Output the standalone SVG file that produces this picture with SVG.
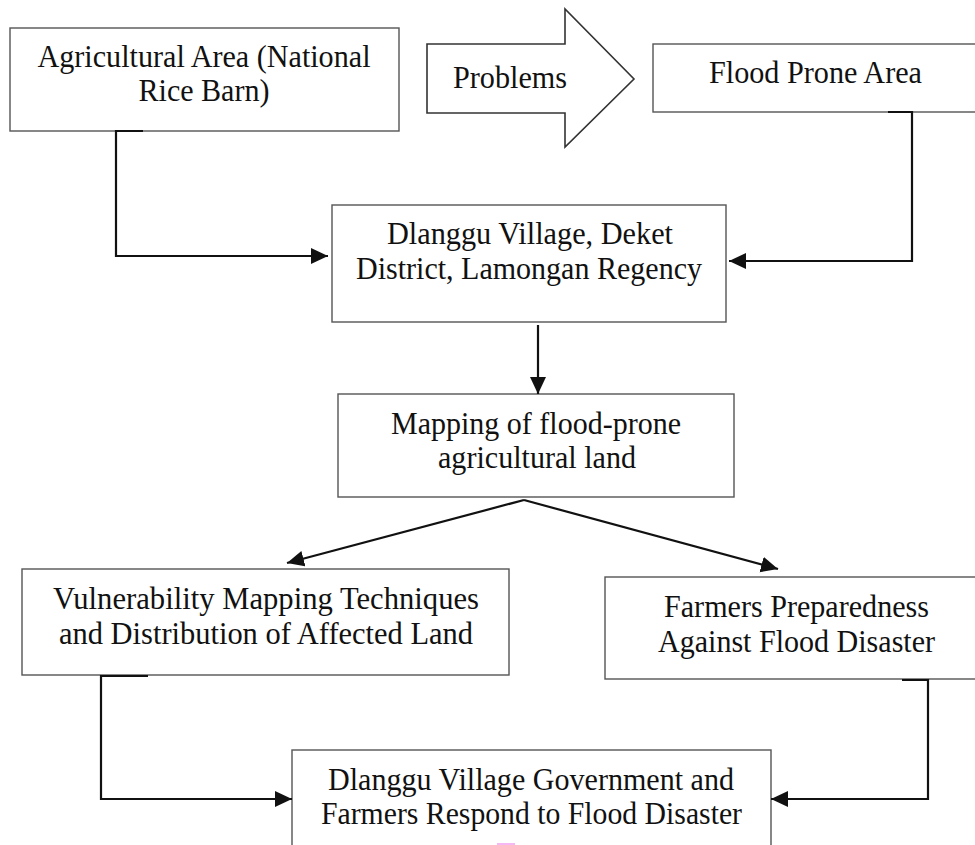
<svg xmlns="http://www.w3.org/2000/svg" width="975" height="845" viewBox="0 0 975 845">
  <style>
    .box { fill: #ffffff; stroke: #555555; stroke-width: 1.4; }
    .lbl { font-family: "Liberation Serif", "Times New Roman", serif; font-size: 32px; fill: #111111; text-anchor: middle; }
    .conn { fill: none; stroke: #111111; stroke-width: 2.2; }
  </style>
  <defs>
    <marker id="ah" markerUnits="userSpaceOnUse" markerWidth="18" markerHeight="17" refX="17" refY="8" orient="auto">
      <path d="M0,0 L17,8 L0,16 z" fill="#111111"/>
    </marker>
  </defs>
  <rect width="975" height="845" fill="#ffffff"/>

  <g id="agri">
    <rect class="box" x="10" y="28" width="389" height="103"/>
    <text class="lbl" x="204" y="67" textLength="333" lengthAdjust="spacingAndGlyphs">Agricultural Area (National</text>
    <text class="lbl" x="204" y="101" textLength="131" lengthAdjust="spacingAndGlyphs">Rice Barn)</text>
  </g>

  <g id="problems">
    <polygon points="427,44 565,44 565,9 634,79 565,147 565,113 427,113" fill="#ffffff" stroke="#333333" stroke-width="1.6"/>
    <text class="lbl" x="510" y="88" textLength="114" lengthAdjust="spacingAndGlyphs">Problems</text>
  </g>

  <g id="flood">
    <rect class="box" x="653" y="44" width="324" height="68"/>
    <text class="lbl" x="815.5" y="83" textLength="213" lengthAdjust="spacingAndGlyphs">Flood Prone Area</text>
  </g>

  <g id="dlanggu">
    <rect class="box" x="332" y="205" width="394" height="117"/>
    <text class="lbl" x="530" y="244" textLength="286" lengthAdjust="spacingAndGlyphs">Dlanggu Village, Deket</text>
    <text class="lbl" x="529" y="279" textLength="346" lengthAdjust="spacingAndGlyphs">District, Lamongan Regency</text>
  </g>

  <g id="mapping">
    <rect class="box" x="338" y="394" width="396" height="103"/>
    <text class="lbl" x="536" y="434" textLength="290" lengthAdjust="spacingAndGlyphs">Mapping of flood-prone</text>
    <text class="lbl" x="537" y="468" textLength="198" lengthAdjust="spacingAndGlyphs">agricultural land</text>
  </g>

  <g id="vulnerability">
    <rect class="box" x="22" y="569" width="487" height="106"/>
    <text class="lbl" x="266" y="609" textLength="426" lengthAdjust="spacingAndGlyphs">Vulnerability Mapping Techniques</text>
    <text class="lbl" x="266" y="644" textLength="414" lengthAdjust="spacingAndGlyphs">and Distribution of Affected Land</text>
  </g>

  <g id="preparedness">
    <rect class="box" x="605" y="577" width="372" height="102"/>
    <text class="lbl" x="796.5" y="617" textLength="265" lengthAdjust="spacingAndGlyphs">Farmers Preparedness</text>
    <text class="lbl" x="796.5" y="652" textLength="277" lengthAdjust="spacingAndGlyphs">Against Flood Disaster</text>
  </g>

  <g id="response">
    <rect class="box" x="292" y="750" width="479" height="120"/>
    <text class="lbl" x="531" y="790" textLength="406" lengthAdjust="spacingAndGlyphs">Dlanggu Village Government and</text>
    <text class="lbl" x="531.5" y="824" textLength="421" lengthAdjust="spacingAndGlyphs">Farmers Respond to Flood Disaster</text>
  </g>

  <g id="connectors">
    <path class="conn" d="M143,131 H116 V256 H328" marker-end="url(#ah)"/>
    <path class="conn" d="M888,112 H912 V261 H729" marker-end="url(#ah)"/>
    <path class="conn" d="M538,325 V394" marker-end="url(#ah)"/>
    <path class="conn" d="M524,500 L287,563" marker-end="url(#ah)"/>
    <path class="conn" d="M524,500 L778,569" marker-end="url(#ah)"/>
    <path class="conn" d="M148,676 H101 V799 H292" marker-end="url(#ah)"/>
    <path class="conn" d="M902,680 H928 V799 H771" marker-end="url(#ah)"/>
  </g>

  <rect x="497" y="843" width="18" height="2" fill="#f5b8f5"/>
</svg>
